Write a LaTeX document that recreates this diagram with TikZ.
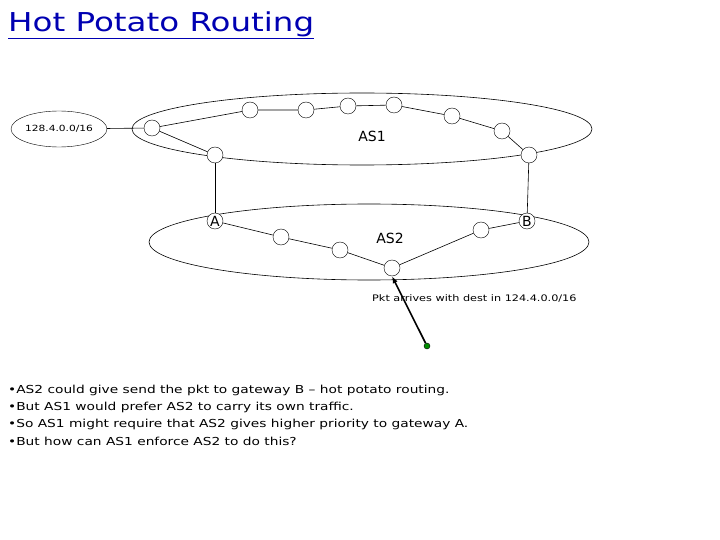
\documentclass[tikz,border=0pt]{standalone}
\usepackage{fontspec}
\setmainfont{DejaVu Sans}[FakeStretch=1.25]
\newfontfamily\plainfont{DejaVu Sans}
\usetikzlibrary{arrows.meta,shapes.geometric}
\begin{document}
\begin{tikzpicture}[x=1pt,y=-1pt,
  rt/.style={circle,draw,inner sep=0pt,minimum size=16pt,fill=white},
  lnk/.style={draw,line width=0.6pt},
  txt/.style={anchor=west,inner sep=0pt,font=\fontsize{11}{12}\selectfont}]
\useasboundingbox (0,0) rectangle (720,540);
\node[font=\fontsize{26}{30}\selectfont,text=blue!70!black,anchor=west,inner sep=0pt] (title) at (8,25) {\underline{Hot Potato Routing}};
\draw[line width=0.6pt] (362,129) ellipse [x radius=230,y radius=36];
\draw[line width=0.6pt] (369,242) ellipse [x radius=220,y radius=38];
\node[draw,ellipse,minimum width=94pt,minimum height=36pt,inner sep=0pt,font=\fontsize{8.5}{10}\selectfont] (pfx) at (59,129) {128.4.0.0/16};
\node[font=\plainfont\fontsize{14}{16}\selectfont] (as1) at (372,136) {AS1};
\node[font=\plainfont\fontsize{14}{16}\selectfont] (as2) at (390,238) {AS2};
\node[rt] (l) at (152,128) {};
\node[rt] (bl) at (215,155) {};
\node[rt] (t1) at (250,110) {};
\node[rt] (t2) at (306,110) {};
\node[rt] (t3) at (348,106) {};
\node[rt] (t4) at (394,105) {};
\node[rt] (t5) at (452,116) {};
\node[rt] (t6) at (502,131) {};
\node[rt] (br) at (529,155) {};
\node[rt,font=\plainfont\fontsize{14}{16}\selectfont] (A) at (215,221) {A};
\node[rt] (a1) at (281,237) {};
\node[rt] (a2) at (340,250) {};
\node[rt] (a3) at (392,268) {};
\node[rt] (a4) at (481,230) {};
\node[rt,font=\plainfont\fontsize{14}{16}\selectfont] (B) at (527,221) {B};
\node[circle,fill=green!55!black,draw=black,inner sep=0pt,minimum size=6pt] (src) at (427,346) {};
\draw[lnk] (pfx) -- (l);
\draw[lnk] (l) -- (t1) -- (t2) -- (t3) -- (t4) -- (t5) -- (t6) -- (br);
\draw[lnk] (l) -- (bl);
\draw[lnk] (bl) -- (A);
\draw[lnk] (br) -- (B);
\draw[lnk] (A) -- (a1) -- (a2) -- (a3) -- (a4) -- (B);
\draw[line width=1.6pt,-{Latex[length=7pt]}] (src) -- (a3.south);
\node[txt,font=\fontsize{9}{11}\selectfont] (pkt) at (372,298) {Pkt arrives with dest in 124.4.0.0/16};
\node[txt] (b1) at (8,390) {•AS2 could give send the pkt to gateway B – hot potato routing.};
\node[txt] (b2) at (8,407) {•But AS1 would prefer AS2 to carry its own traffic.};
\node[txt] (b3) at (8,424) {•So AS1 might require that AS2 gives higher priority to gateway A.};
\node[txt] (b4) at (8,441) {•But how can AS1 enforce AS2 to do this?};
\end{tikzpicture}
\end{document}
